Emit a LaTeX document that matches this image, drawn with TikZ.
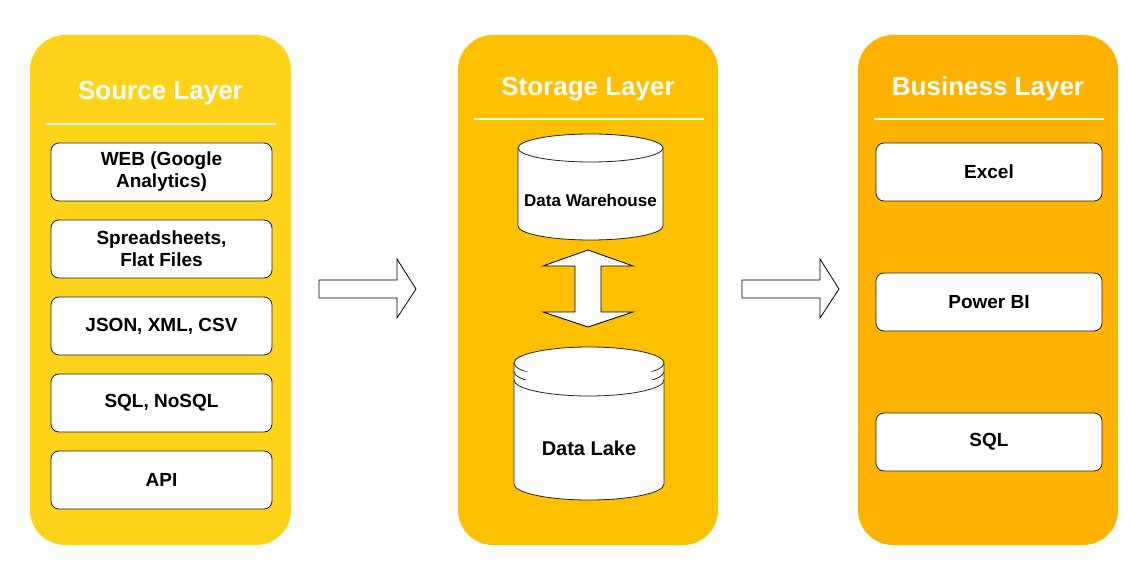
\documentclass[tikz,border=0pt]{standalone}
\usepackage{fontspec}
\setmainfont{Liberation Sans}
\definecolor{srcyellow}{HTML}{FFD319}
\definecolor{storeyellow}{HTML}{FFC000}
\definecolor{busyellow}{HTML}{FFB300}
\definecolor{boxline}{HTML}{222222}
\begin{document}
\begin{tikzpicture}[x=1pt, y=-1pt,
  layer/.style={rounded corners=35pt},
  sep/.style={draw=white!95!yellow, line width=1.5pt},
  title/.style={text=white, font=\fontsize{26}{30}\selectfont\bfseries},
  item/.style={draw=boxline, fill=white, line width=0.8pt, rounded corners=8pt, minimum width=221pt, minimum height=58pt, align=center, font=\fontsize{19}{22}\selectfont\bfseries},
  db/.style={draw=boxline, fill=white, line width=0.8pt},
  blockarrow/.style={draw=black, fill=white, line width=0.8pt}]
\useasboundingbox (0,0) rectangle (1143,569);
% layers
\fill[layer, srcyellow] (30,35) rectangle (291,545);
\fill[layer, storeyellow] (458,35) rectangle (718,545);
\fill[layer, busyellow] (858,35) rectangle (1118,545);
\node[title] (srctitle) at (160.5,93) {Source Layer};
\node[title] (storetitle) at (588,89) {Storage Layer};
\node[title] (bustitle) at (988,89) {Business Layer};
\draw[sep] (46,124) -- (276,124);
\draw[sep] (474,119) -- (704,119);
\draw[sep] (874,119) -- (1104,119);
% source items
\node[item] (web) at (161.5,172) {WEB (Google\\Analytics)};
\node[item] (sheets) at (161.5,249) {Spreadsheets,\\Flat Files};
\node[item] (json) at (161.5,326) {JSON, XML, CSV};
\node[item] (sql) at (161.5,403) {SQL, NoSQL};
\node[item] (api) at (161.5,480) {API};
% storage
\draw[db] (518,148) -- (518,226) arc[start angle=180, end angle=0, x radius=72.5, y radius=14] -- (663,148) arc[start angle=0, end angle=-180, x radius=72.5, y radius=14] -- cycle;
\draw[db] (518,148) arc[start angle=180, end angle=0, x radius=72.5, y radius=14];
\node[font=\fontsize{17}{20}\selectfont\bfseries] (dwh) at (590.5,200) {Data Warehouse};
\draw[blockarrow] (588,250) -- (633,266) -- (601,266) -- (601,312) -- (633,312) -- (588,327) -- (543,312) -- (575,312) -- (575,266) -- (543,266) -- cycle;
\draw[db] (514,363) -- (514,484) arc[start angle=180, end angle=0, x radius=75, y radius=16] -- (664,363) arc[start angle=0, end angle=-180, x radius=75, y radius=16] -- cycle;
\draw[db] (514,363) arc[start angle=180, end angle=0, x radius=75, y radius=16];
\draw[db] (514,371.5) arc[start angle=180, end angle=0, x radius=75, y radius=16];
\draw[db] (514,380) arc[start angle=180, end angle=0, x radius=75, y radius=16];
\node[font=\fontsize{20}{24}\selectfont\bfseries] (lake) at (589,448) {Data Lake};
% arrows between layers
\draw[blockarrow] (319,280) -- (397,280) -- (397,259) -- (416,289) -- (397,318) -- (397,298) -- (319,298) -- cycle;
\draw[blockarrow] (742,280) -- (820,280) -- (820,259) -- (839,289) -- (820,318) -- (820,298) -- (742,298) -- cycle;
% business items
\node[item, minimum width=226pt] (excel) at (989,172) {Excel};
\node[item, minimum width=226pt] (powerbi) at (989,302) {Power BI};
\node[item, minimum width=226pt] (bsql) at (989,442) {SQL};
\end{tikzpicture}
\end{document}
